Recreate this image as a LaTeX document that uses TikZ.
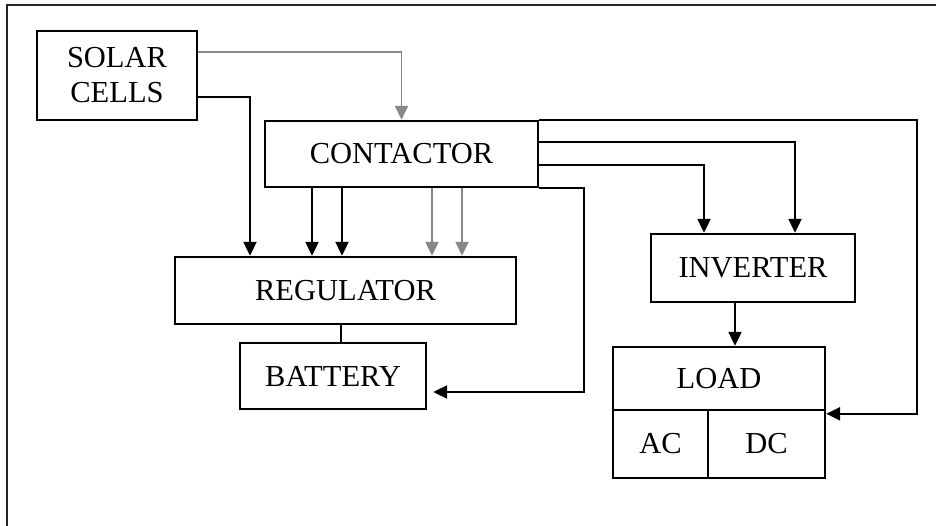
\documentclass[tikz,border=0pt]{standalone}
\usepackage{fontspec}
\setmainfont{Liberation Serif}
\usetikzlibrary{arrows.meta}
\definecolor{gris}{RGB}{135,135,135}

\begin{document}
\begin{tikzpicture}[
    x=1pt, y=-1pt,
    bloc/.style={draw, line width=2.4pt, inner sep=0pt, align=center,
      font=\fontsize{30.5}{35}\selectfont},
    fleche/.style={line width=2.2pt, -{Triangle[length=14pt,width=13pt]}},
    grise/.style={fleche, draw=gris, line width=1.6pt},
  ]
  \useasboundingbox (0,0) rectangle (936,526);
  \draw[line width=2.4pt, black!85] (7,526) -- (7,5) -- (936,5); % cadre

  % les blocs
  \node[bloc, minimum width=160pt, minimum height=89pt] (solar) at (117,75.5) {SOLAR\\CELLS};
  \node[bloc, minimum width=273pt, minimum height=66pt] (contactor) at (401.5,154) {CONTACTOR};
  \node[bloc, minimum width=341pt, minimum height=67pt] (regulator) at (345.5,290.5) {REGULATOR};
  \node[bloc, minimum width=186pt, minimum height=66pt] (battery) at (333,376) {BATTERY};
  \node[bloc, minimum width=204pt, minimum height=68pt] (inverter) at (753,268) {INVERTER};
  \node[bloc, minimum width=212pt, minimum height=63pt] (load) at (719,378.5) {LOAD};
  \node[bloc, minimum width=95pt, minimum height=68pt] (ac) at (660.5,444) {AC};
  \node[bloc, minimum width=117pt, minimum height=68pt] (dc) at (766.5,444) {DC};

  % liaisons
  \draw[grise] ([yshift=23.5pt]solar.east) -| (contactor.north);
  \draw[fleche] ([yshift=-21.5pt]solar.east) -| ([xshift=-95.5pt]regulator.north);
  \foreach \s in {-89.5,-59.5}
    \draw[fleche] ([xshift=\s pt]contactor.south) -- ([xshift=\s pt]contactor.south |- regulator.north);
  \foreach \s in {30.5,60.5}
    \draw[grise] ([xshift=\s pt]contactor.south) -- ([xshift=\s pt]contactor.south |- regulator.north);
  \draw[line width=2.2pt] ([xshift=8pt]battery.north) -- ([xshift=8pt]battery.north |- regulator.south);
  \draw[fleche, shorten >=6pt] (contactor.south east) -- ++(45,0) |- ([yshift=-16pt]battery.east);
  \draw[fleche] (contactor.north east) -- ++(378,0) |- ([yshift=-5pt]dc.north east);
  \draw[fleche] ([yshift=-22pt]contactor.north east) -| ([xshift=42pt]inverter.north);
  \draw[fleche] ([yshift=-45pt]contactor.north east) -| ([xshift=-49pt]inverter.north);
  \draw[fleche] ([xshift=-18pt]inverter.south) -- ([xshift=-18pt]inverter.south |- load.north);
\end{tikzpicture}
\end{document}
